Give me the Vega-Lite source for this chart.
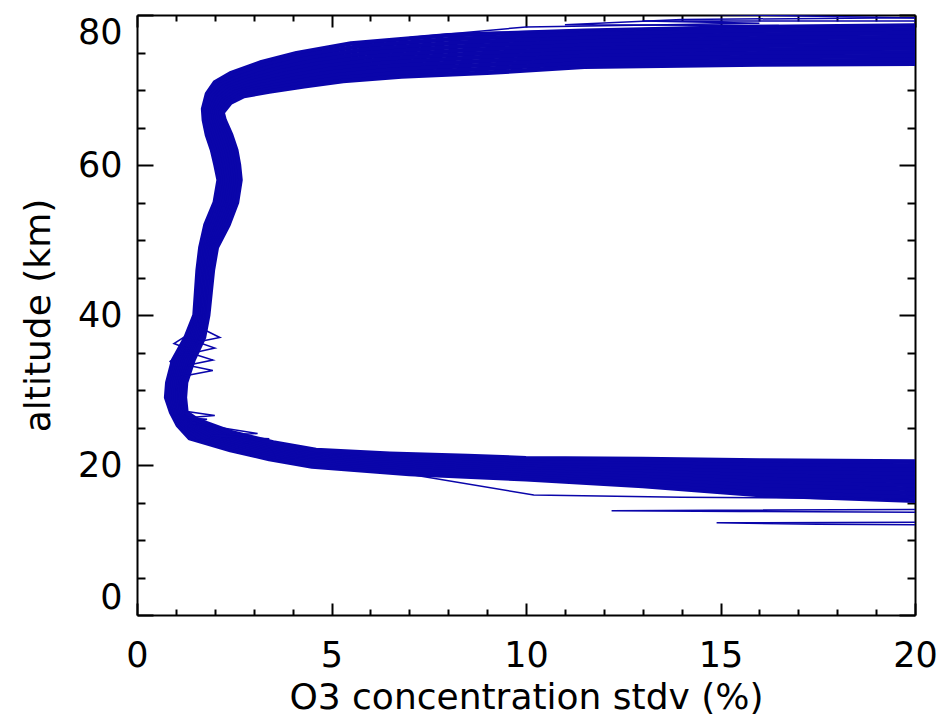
{
  "$schema": "https://vega.github.io/schema/vega-lite/v6.json",
  "autosize": {"type": "none"},
  "padding": {"left": 137, "top": 15, "right": 25, "bottom": 106},
  "width": 778,
  "height": 600,
  "background": "white",
  "config": {
    "view": {"stroke": null},
    "font": "DejaVu Sans",
    "axis": {
      "domainColor": "black",
      "domainWidth": 2,
      "tickColor": "black",
      "tickWidth": 2,
      "grid": false,
      "labelFont": "DejaVu Sans",
      "labelFontSize": 35,
      "labelColor": "black",
      "labelFontWeight": "normal",
      "titleFont": "DejaVu Sans",
      "titleFontSize": 36,
      "titleFontWeight": "normal",
      "titleColor": "black"
    }
  },
  "datasets": {
    "profiles": [
      {"p":0,"alt":14.5,"sd":24},{"p":0,"alt":16.0,"sd":16},{"p":0,"alt":17.2,"sd":13},{"p":0,"alt":18.1,"sd":10},{"p":0,"alt":18.8,"sd":7.0},{"p":0,"alt":19.8,"sd":4.5},{"p":0,"alt":20.8,"sd":3.4},{"p":0,"alt":22.0,"sd":2.4},{"p":0,"alt":23.6,"sd":1.35},{"p":0,"alt":25.3,"sd":1.05},{"p":0,"alt":27,"sd":0.88},{"p":0,"alt":29,"sd":0.75},{"p":0,"alt":31,"sd":0.78},{"p":0,"alt":34,"sd":0.93},{"p":0,"alt":37,"sd":1.25},{"p":0,"alt":40,"sd":1.48},{"p":0,"alt":43,"sd":1.52},{"p":0,"alt":46,"sd":1.56},{"p":0,"alt":49,"sd":1.63},{"p":0,"alt":52,"sd":1.76},{"p":0,"alt":55,"sd":2.0},{"p":0,"alt":58,"sd":2.1},{"p":0,"alt":60,"sd":2.02},{"p":0,"alt":62,"sd":1.93},{"p":0,"alt":64,"sd":1.8},{"p":0,"alt":66,"sd":1.72},{"p":0,"alt":67.5,"sd":1.7},{"p":0,"alt":69.5,"sd":1.8},{"p":0,"alt":71,"sd":2.0},{"p":0,"alt":72.2,"sd":2.4},{"p":0,"alt":73.7,"sd":3.2},{"p":0,"alt":74.9,"sd":4.1},{"p":0,"alt":76.2,"sd":5.5},{"p":0,"alt":77.3,"sd":8.0},{"p":0,"alt":77.9,"sd":11.5},{"p":0,"alt":78.4,"sd":16},{"p":0,"alt":78.8,"sd":24},
      {"p":1,"alt":15.08,"sd":24},{"p":1,"alt":16.46,"sd":16},{"p":1,"alt":17.56,"sd":13},{"p":1,"alt":18.38,"sd":10},{"p":1,"alt":19.04,"sd":7.15},{"p":1,"alt":19.97,"sd":4.7},{"p":1,"alt":20.92,"sd":3.52},{"p":1,"alt":22.1,"sd":2.51},{"p":1,"alt":23.68,"sd":1.46},{"p":1,"alt":25.37,"sd":1.1},{"p":1,"alt":27,"sd":0.92},{"p":1,"alt":29,"sd":0.8},{"p":1,"alt":31,"sd":0.83},{"p":1,"alt":34,"sd":0.98},{"p":1,"alt":37,"sd":1.3},{"p":1,"alt":40,"sd":1.52},{"p":1,"alt":43,"sd":1.56},{"p":1,"alt":46,"sd":1.6},{"p":1,"alt":49,"sd":1.67},{"p":1,"alt":52,"sd":1.82},{"p":1,"alt":55,"sd":2.06},{"p":1,"alt":58,"sd":2.16},{"p":1,"alt":60,"sd":2.08},{"p":1,"alt":62,"sd":1.99},{"p":1,"alt":64,"sd":1.86},{"p":1,"alt":66,"sd":1.77},{"p":1,"alt":67.45,"sd":1.75},{"p":1,"alt":69.38,"sd":1.86},{"p":1,"alt":70.82,"sd":2.08},{"p":1,"alt":71.96,"sd":2.5},{"p":1,"alt":73.38,"sd":3.31},{"p":1,"alt":74.53,"sd":4.22},{"p":1,"alt":75.76,"sd":5.63},{"p":1,"alt":76.8,"sd":8.1},{"p":1,"alt":77.42,"sd":11.5},{"p":1,"alt":77.9,"sd":16},{"p":1,"alt":78.28,"sd":24},
      {"p":2,"alt":15.66,"sd":24},{"p":2,"alt":16.92,"sd":16},{"p":2,"alt":17.92,"sd":13},{"p":2,"alt":18.66,"sd":10},{"p":2,"alt":19.28,"sd":7.3},{"p":2,"alt":20.14,"sd":4.9},{"p":2,"alt":21.04,"sd":3.64},{"p":2,"alt":22.2,"sd":2.62},{"p":2,"alt":23.76,"sd":1.56},{"p":2,"alt":25.44,"sd":1.15},{"p":2,"alt":27,"sd":0.96},{"p":2,"alt":29,"sd":0.85},{"p":2,"alt":31,"sd":0.88},{"p":2,"alt":34,"sd":1.03},{"p":2,"alt":37,"sd":1.34},{"p":2,"alt":40,"sd":1.55},{"p":2,"alt":43,"sd":1.59},{"p":2,"alt":46,"sd":1.64},{"p":2,"alt":49,"sd":1.71},{"p":2,"alt":52,"sd":1.88},{"p":2,"alt":55,"sd":2.11},{"p":2,"alt":58,"sd":2.21},{"p":2,"alt":60,"sd":2.14},{"p":2,"alt":62,"sd":2.05},{"p":2,"alt":64,"sd":1.92},{"p":2,"alt":66,"sd":1.83},{"p":2,"alt":67.4,"sd":1.8},{"p":2,"alt":69.26,"sd":1.92},{"p":2,"alt":70.64,"sd":2.15},{"p":2,"alt":71.72,"sd":2.6},{"p":2,"alt":73.06,"sd":3.42},{"p":2,"alt":74.16,"sd":4.34},{"p":2,"alt":75.32,"sd":5.76},{"p":2,"alt":76.3,"sd":8.2},{"p":2,"alt":76.94,"sd":11.5},{"p":2,"alt":77.4,"sd":16},{"p":2,"alt":77.76,"sd":24},
      {"p":3,"alt":16.24,"sd":24},{"p":3,"alt":17.38,"sd":16},{"p":3,"alt":18.28,"sd":13},{"p":3,"alt":18.94,"sd":10},{"p":3,"alt":19.52,"sd":7.45},{"p":3,"alt":20.31,"sd":5.1},{"p":3,"alt":21.16,"sd":3.76},{"p":3,"alt":22.3,"sd":2.73},{"p":3,"alt":23.84,"sd":1.67},{"p":3,"alt":25.51,"sd":1.2},{"p":3,"alt":27,"sd":1.0},{"p":3,"alt":29,"sd":0.89},{"p":3,"alt":31,"sd":0.92},{"p":3,"alt":34,"sd":1.09},{"p":3,"alt":37,"sd":1.39},{"p":3,"alt":40,"sd":1.59},{"p":3,"alt":43,"sd":1.63},{"p":3,"alt":46,"sd":1.68},{"p":3,"alt":49,"sd":1.76},{"p":3,"alt":52,"sd":1.94},{"p":3,"alt":55,"sd":2.17},{"p":3,"alt":58,"sd":2.27},{"p":3,"alt":60,"sd":2.2},{"p":3,"alt":62,"sd":2.12},{"p":3,"alt":64,"sd":1.99},{"p":3,"alt":66,"sd":1.88},{"p":3,"alt":67.35,"sd":1.85},{"p":3,"alt":69.14,"sd":1.98},{"p":3,"alt":70.46,"sd":2.23},{"p":3,"alt":71.48,"sd":2.7},{"p":3,"alt":72.74,"sd":3.53},{"p":3,"alt":73.79,"sd":4.46},{"p":3,"alt":74.88,"sd":5.89},{"p":3,"alt":75.8,"sd":8.3},{"p":3,"alt":76.46,"sd":11.5},{"p":3,"alt":76.9,"sd":16},{"p":3,"alt":77.24,"sd":24},
      {"p":4,"alt":16.82,"sd":24},{"p":4,"alt":17.84,"sd":16},{"p":4,"alt":18.64,"sd":13},{"p":4,"alt":19.22,"sd":10},{"p":4,"alt":19.76,"sd":7.6},{"p":4,"alt":20.48,"sd":5.3},{"p":4,"alt":21.28,"sd":3.88},{"p":4,"alt":22.4,"sd":2.84},{"p":4,"alt":23.92,"sd":1.77},{"p":4,"alt":25.58,"sd":1.25},{"p":4,"alt":27,"sd":1.04},{"p":4,"alt":29,"sd":0.94},{"p":4,"alt":31,"sd":0.97},{"p":4,"alt":34,"sd":1.14},{"p":4,"alt":37,"sd":1.44},{"p":4,"alt":40,"sd":1.62},{"p":4,"alt":43,"sd":1.67},{"p":4,"alt":46,"sd":1.72},{"p":4,"alt":49,"sd":1.8},{"p":4,"alt":52,"sd":2.0},{"p":4,"alt":55,"sd":2.23},{"p":4,"alt":58,"sd":2.32},{"p":4,"alt":60,"sd":2.26},{"p":4,"alt":62,"sd":2.18},{"p":4,"alt":64,"sd":2.05},{"p":4,"alt":66,"sd":1.93},{"p":4,"alt":67.3,"sd":1.9},{"p":4,"alt":69.02,"sd":2.04},{"p":4,"alt":70.28,"sd":2.3},{"p":4,"alt":71.24,"sd":2.8},{"p":4,"alt":72.42,"sd":3.64},{"p":4,"alt":73.42,"sd":4.58},{"p":4,"alt":74.44,"sd":6.02},{"p":4,"alt":75.3,"sd":8.4},{"p":4,"alt":75.98,"sd":11.5},{"p":4,"alt":76.4,"sd":16},{"p":4,"alt":76.72,"sd":24},
      {"p":5,"alt":17.4,"sd":24},{"p":5,"alt":18.3,"sd":16},{"p":5,"alt":19.0,"sd":13},{"p":5,"alt":19.5,"sd":10},{"p":5,"alt":20.0,"sd":7.75},{"p":5,"alt":20.65,"sd":5.5},{"p":5,"alt":21.4,"sd":4.0},{"p":5,"alt":22.5,"sd":2.95},{"p":5,"alt":24.0,"sd":1.88},{"p":5,"alt":25.65,"sd":1.3},{"p":5,"alt":27,"sd":1.08},{"p":5,"alt":29,"sd":0.99},{"p":5,"alt":31,"sd":1.02},{"p":5,"alt":34,"sd":1.19},{"p":5,"alt":37,"sd":1.49},{"p":5,"alt":40,"sd":1.66},{"p":5,"alt":43,"sd":1.71},{"p":5,"alt":46,"sd":1.76},{"p":5,"alt":49,"sd":1.84},{"p":5,"alt":52,"sd":2.06},{"p":5,"alt":55,"sd":2.29},{"p":5,"alt":58,"sd":2.38},{"p":5,"alt":60,"sd":2.32},{"p":5,"alt":62,"sd":2.24},{"p":5,"alt":64,"sd":2.11},{"p":5,"alt":66,"sd":1.99},{"p":5,"alt":67.25,"sd":1.95},{"p":5,"alt":68.9,"sd":2.1},{"p":5,"alt":70.1,"sd":2.38},{"p":5,"alt":71.0,"sd":2.9},{"p":5,"alt":72.1,"sd":3.75},{"p":5,"alt":73.05,"sd":4.7},{"p":5,"alt":74.0,"sd":6.15},{"p":5,"alt":74.8,"sd":8.5},{"p":5,"alt":75.5,"sd":11.5},{"p":5,"alt":75.9,"sd":16},{"p":5,"alt":76.2,"sd":24},
      {"p":6,"alt":17.98,"sd":24},{"p":6,"alt":18.76,"sd":16},{"p":6,"alt":19.36,"sd":13},{"p":6,"alt":19.78,"sd":10},{"p":6,"alt":20.24,"sd":7.9},{"p":6,"alt":20.82,"sd":5.7},{"p":6,"alt":21.52,"sd":4.12},{"p":6,"alt":22.6,"sd":3.06},{"p":6,"alt":24.08,"sd":1.98},{"p":6,"alt":25.72,"sd":1.35},{"p":6,"alt":27,"sd":1.11},{"p":6,"alt":29,"sd":1.04},{"p":6,"alt":31,"sd":1.07},{"p":6,"alt":34,"sd":1.24},{"p":6,"alt":37,"sd":1.53},{"p":6,"alt":40,"sd":1.69},{"p":6,"alt":43,"sd":1.74},{"p":6,"alt":46,"sd":1.79},{"p":6,"alt":49,"sd":1.88},{"p":6,"alt":52,"sd":2.11},{"p":6,"alt":55,"sd":2.34},{"p":6,"alt":58,"sd":2.44},{"p":6,"alt":60,"sd":2.38},{"p":6,"alt":62,"sd":2.3},{"p":6,"alt":64,"sd":2.17},{"p":6,"alt":66,"sd":2.04},{"p":6,"alt":67.2,"sd":2.0},{"p":6,"alt":68.78,"sd":2.16},{"p":6,"alt":69.92,"sd":2.45},{"p":6,"alt":70.76,"sd":3.0},{"p":6,"alt":71.78,"sd":3.86},{"p":6,"alt":72.68,"sd":4.82},{"p":6,"alt":73.56,"sd":6.28},{"p":6,"alt":74.3,"sd":8.6},{"p":6,"alt":75.02,"sd":11.5},{"p":6,"alt":75.4,"sd":16},{"p":6,"alt":75.68,"sd":24},
      {"p":7,"alt":18.56,"sd":24},{"p":7,"alt":19.22,"sd":16},{"p":7,"alt":19.72,"sd":13},{"p":7,"alt":20.06,"sd":10},{"p":7,"alt":20.48,"sd":8.05},{"p":7,"alt":20.99,"sd":5.9},{"p":7,"alt":21.64,"sd":4.24},{"p":7,"alt":22.7,"sd":3.17},{"p":7,"alt":24.16,"sd":2.09},{"p":7,"alt":25.79,"sd":1.4},{"p":7,"alt":27,"sd":1.15},{"p":7,"alt":29,"sd":1.09},{"p":7,"alt":31,"sd":1.12},{"p":7,"alt":34,"sd":1.29},{"p":7,"alt":37,"sd":1.58},{"p":7,"alt":40,"sd":1.73},{"p":7,"alt":43,"sd":1.78},{"p":7,"alt":46,"sd":1.83},{"p":7,"alt":49,"sd":1.92},{"p":7,"alt":52,"sd":2.17},{"p":7,"alt":55,"sd":2.4},{"p":7,"alt":58,"sd":2.49},{"p":7,"alt":60,"sd":2.44},{"p":7,"alt":62,"sd":2.36},{"p":7,"alt":64,"sd":2.23},{"p":7,"alt":66,"sd":2.09},{"p":7,"alt":67.15,"sd":2.05},{"p":7,"alt":68.66,"sd":2.22},{"p":7,"alt":69.74,"sd":2.53},{"p":7,"alt":70.52,"sd":3.1},{"p":7,"alt":71.46,"sd":3.97},{"p":7,"alt":72.31,"sd":4.94},{"p":7,"alt":73.12,"sd":6.41},{"p":7,"alt":73.8,"sd":8.7},{"p":7,"alt":74.54,"sd":11.5},{"p":7,"alt":74.9,"sd":16},{"p":7,"alt":75.16,"sd":24},
      {"p":8,"alt":19.14,"sd":24},{"p":8,"alt":19.68,"sd":16},{"p":8,"alt":20.08,"sd":13},{"p":8,"alt":20.34,"sd":10},{"p":8,"alt":20.72,"sd":8.2},{"p":8,"alt":21.16,"sd":6.1},{"p":8,"alt":21.76,"sd":4.36},{"p":8,"alt":22.8,"sd":3.28},{"p":8,"alt":24.24,"sd":2.19},{"p":8,"alt":25.86,"sd":1.45},{"p":8,"alt":27,"sd":1.19},{"p":8,"alt":29,"sd":1.13},{"p":8,"alt":31,"sd":1.16},{"p":8,"alt":34,"sd":1.35},{"p":8,"alt":37,"sd":1.63},{"p":8,"alt":40,"sd":1.76},{"p":8,"alt":43,"sd":1.82},{"p":8,"alt":46,"sd":1.87},{"p":8,"alt":49,"sd":1.97},{"p":8,"alt":52,"sd":2.23},{"p":8,"alt":55,"sd":2.46},{"p":8,"alt":58,"sd":2.55},{"p":8,"alt":60,"sd":2.5},{"p":8,"alt":62,"sd":2.43},{"p":8,"alt":64,"sd":2.3},{"p":8,"alt":66,"sd":2.14},{"p":8,"alt":67.1,"sd":2.1},{"p":8,"alt":68.54,"sd":2.28},{"p":8,"alt":69.56,"sd":2.6},{"p":8,"alt":70.28,"sd":3.2},{"p":8,"alt":71.14,"sd":4.08},{"p":8,"alt":71.94,"sd":5.06},{"p":8,"alt":72.68,"sd":6.54},{"p":8,"alt":73.3,"sd":8.8},{"p":8,"alt":74.06,"sd":11.5},{"p":8,"alt":74.4,"sd":16},{"p":8,"alt":74.64,"sd":24},
      {"p":9,"alt":19.72,"sd":24},{"p":9,"alt":20.14,"sd":16},{"p":9,"alt":20.44,"sd":13},{"p":9,"alt":20.62,"sd":10},{"p":9,"alt":20.96,"sd":8.35},{"p":9,"alt":21.33,"sd":6.3},{"p":9,"alt":21.88,"sd":4.48},{"p":9,"alt":22.9,"sd":3.39},{"p":9,"alt":24.32,"sd":2.3},{"p":9,"alt":25.93,"sd":1.5},{"p":9,"alt":27,"sd":1.23},{"p":9,"alt":29,"sd":1.18},{"p":9,"alt":31,"sd":1.21},{"p":9,"alt":34,"sd":1.4},{"p":9,"alt":37,"sd":1.67},{"p":9,"alt":40,"sd":1.8},{"p":9,"alt":43,"sd":1.85},{"p":9,"alt":46,"sd":1.91},{"p":9,"alt":49,"sd":2.01},{"p":9,"alt":52,"sd":2.29},{"p":9,"alt":55,"sd":2.51},{"p":9,"alt":58,"sd":2.6},{"p":9,"alt":60,"sd":2.56},{"p":9,"alt":62,"sd":2.49},{"p":9,"alt":64,"sd":2.36},{"p":9,"alt":66,"sd":2.2},{"p":9,"alt":67.05,"sd":2.15},{"p":9,"alt":68.42,"sd":2.34},{"p":9,"alt":69.38,"sd":2.68},{"p":9,"alt":70.04,"sd":3.3},{"p":9,"alt":70.82,"sd":4.19},{"p":9,"alt":71.57,"sd":5.18},{"p":9,"alt":72.24,"sd":6.67},{"p":9,"alt":72.8,"sd":8.9},{"p":9,"alt":73.58,"sd":11.5},{"p":9,"alt":73.9,"sd":16},{"p":9,"alt":74.12,"sd":24},
      {"p":10,"alt":20.3,"sd":24},{"p":10,"alt":20.6,"sd":16},{"p":10,"alt":20.8,"sd":13},{"p":10,"alt":20.9,"sd":10},{"p":10,"alt":21.2,"sd":8.5},{"p":10,"alt":21.5,"sd":6.5},{"p":10,"alt":22.0,"sd":4.6},{"p":10,"alt":23.0,"sd":3.5},{"p":10,"alt":24.4,"sd":2.4},{"p":10,"alt":26.0,"sd":1.55},{"p":10,"alt":27,"sd":1.27},{"p":10,"alt":29,"sd":1.23},{"p":10,"alt":31,"sd":1.26},{"p":10,"alt":34,"sd":1.45},{"p":10,"alt":37,"sd":1.72},{"p":10,"alt":40,"sd":1.83},{"p":10,"alt":43,"sd":1.89},{"p":10,"alt":46,"sd":1.95},{"p":10,"alt":49,"sd":2.05},{"p":10,"alt":52,"sd":2.35},{"p":10,"alt":55,"sd":2.57},{"p":10,"alt":58,"sd":2.66},{"p":10,"alt":60,"sd":2.62},{"p":10,"alt":62,"sd":2.55},{"p":10,"alt":64,"sd":2.42},{"p":10,"alt":66,"sd":2.25},{"p":10,"alt":67.0,"sd":2.2},{"p":10,"alt":68.3,"sd":2.4},{"p":10,"alt":69.2,"sd":2.75},{"p":10,"alt":69.8,"sd":3.4},{"p":10,"alt":70.5,"sd":4.3},{"p":10,"alt":71.2,"sd":5.3},{"p":10,"alt":71.8,"sd":6.8},{"p":10,"alt":72.3,"sd":9.0},{"p":10,"alt":73.1,"sd":11.5},{"p":10,"alt":73.4,"sd":16},{"p":10,"alt":73.6,"sd":24},
      {"p":11,"alt":30,"sd":1.0},{"p":11,"alt":31.8,"sd":1.15},{"p":11,"alt":32.6,"sd":1.95},{"p":11,"alt":33.3,"sd":1.3},{"p":11,"alt":34.0,"sd":1.95},{"p":11,"alt":34.9,"sd":1.4},{"p":11,"alt":35.6,"sd":2.0},{"p":11,"alt":36.4,"sd":1.55},{"p":11,"alt":37.0,"sd":2.13},{"p":11,"alt":38.5,"sd":1.55},{"p":11,"alt":41,"sd":1.62},
      {"p":12,"alt":32.8,"sd":1.0},{"p":12,"alt":33.8,"sd":0.85},{"p":12,"alt":35.5,"sd":1.3},{"p":12,"alt":36.2,"sd":0.95},{"p":12,"alt":37.5,"sd":1.35},{"p":12,"alt":40,"sd":1.5},
      {"p":13,"alt":22.9,"sd":2.7},{"p":13,"alt":23.5,"sd":3.4},{"p":13,"alt":23.9,"sd":1.9},{"p":13,"alt":24.2,"sd":3.1},{"p":13,"alt":25.6,"sd":1.4},{"p":13,"alt":26.1,"sd":1.8},{"p":13,"alt":26.3,"sd":1.3},{"p":13,"alt":26.6,"sd":2.0},{"p":13,"alt":27.2,"sd":1.2},{"p":13,"alt":28,"sd":1.1},
      {"p":14,"alt":77.0,"sd":7},{"p":14,"alt":78.4,"sd":10},{"p":14,"alt":80.3,"sd":12.4},{"p":14,"alt":79.2,"sd":13},{"p":14,"alt":78.9,"sd":16},{"p":14,"alt":79.6,"sd":20},{"p":14,"alt":79.2,"sd":24},
      {"p":15,"alt":77.6,"sd":8.5},{"p":15,"alt":78.7,"sd":11},{"p":15,"alt":79.4,"sd":14},{"p":15,"alt":78.6,"sd":16.5},{"p":15,"alt":79.6,"sd":19},{"p":15,"alt":79.8,"sd":24},
      {"p":16,"alt":14.8,"sd":24},{"p":16,"alt":15.6,"sd":17},{"p":16,"alt":15.7,"sd":14},{"p":16,"alt":16.0,"sd":10.2},{"p":16,"alt":19.2,"sd":6.5},
      {"p":17,"alt":13.5,"sd":30},{"p":17,"alt":13.8,"sd":15.5},{"p":17,"alt":13.9,"sd":12.2},{"p":17,"alt":14.3,"sd":30},
      {"p":18,"alt":11.8,"sd":30},{"p":18,"alt":12.1,"sd":17.5},{"p":18,"alt":12.3,"sd":14.9},{"p":18,"alt":12.5,"sd":30}
    ]
  },
  "data": {"name": "profiles"},
  "layer": [
    {
      "transform": [{"filter": "datum.p <= 10"}],
      "mark": {"type": "line", "clip": true, "color": "#0a05aa", "strokeWidth": 4.6, "strokeJoin": "round"},
      "encoding": {
        "x": {
          "field": "sd", "type": "quantitative",
          "scale": {"domain": [0, 20], "nice": false, "zero": false},
          "axis": {
            "orient": "bottom",
            "values": [0,1,2,3,4,5,6,7,8,9,10,11,12,13,14,15,16,17,18,19,20],
            "tickSize": {"condition": {"test": "datum.value % 5 === 0", "value": -12}, "value": -6},
            "labelExpr": "datum.value % 5 === 0 ? datum.label : ''",
            "labelPadding": 35,
            "labelFlush": false,
            "labelOverlap": false,
            "title": "O3 concentration stdv (%)",
            "titlePadding": 1
          }
        },
        "y": {
          "field": "alt", "type": "quantitative",
          "scale": {"domain": [0, 80], "nice": false, "zero": false},
          "axis": {
            "orient": "left",
            "values": [0,5,10,15,20,25,30,35,40,45,50,55,60,65,70,75,80],
            "tickSize": {"condition": {"test": "datum.value % 20 === 0", "value": -16}, "value": -8},
            "labelExpr": "datum.value % 20 === 0 ? datum.label : ''",
            "labelPadding": 31,
            "labelFlush": true,
            "labelOverlap": false,
            "title": "altitude (km)",
            "titlePadding": 20
          }
        },
        "detail": {"field": "p", "type": "nominal"},
        "order": {"field": "alt", "type": "quantitative"}
      }
    },
    {
      "transform": [{"filter": "datum.p > 10"}],
      "mark": {"type": "line", "clip": true, "color": "#0a05aa", "strokeWidth": 1.5},
      "encoding": {
        "x": {
          "field": "sd", "type": "quantitative",
          "scale": {"domain": [0, 20], "nice": false, "zero": false},
          "axis": {
            "orient": "top",
            "values": [0,1,2,3,4,5,6,7,8,9,10,11,12,13,14,15,16,17,18,19,20],
            "tickSize": {"condition": {"test": "datum.value % 5 === 0", "value": -12}, "value": -6},
            "labels": false,
            "title": null
          }
        },
        "y": {
          "field": "alt", "type": "quantitative",
          "scale": {"domain": [0, 80], "nice": false, "zero": false},
          "axis": {
            "orient": "right",
            "values": [0,5,10,15,20,25,30,35,40,45,50,55,60,65,70,75,80],
            "tickSize": {"condition": {"test": "datum.value % 20 === 0", "value": -16}, "value": -8},
            "labels": false,
            "title": null
          }
        },
        "detail": {"field": "p", "type": "nominal"},
        "order": {"field": "alt", "type": "quantitative"}
      }
    }
  ]
}
